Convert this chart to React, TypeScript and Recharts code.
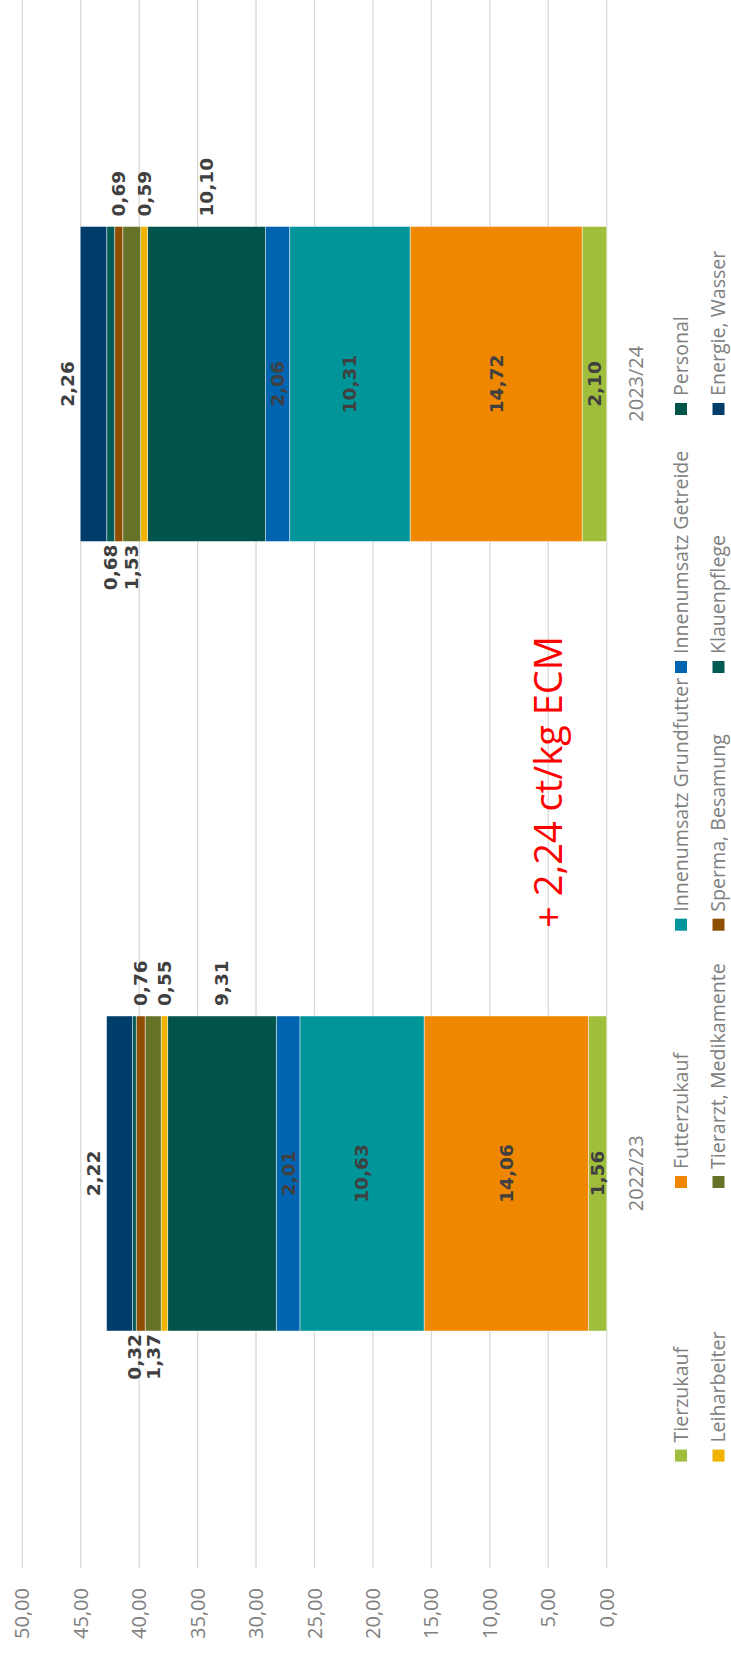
import React from 'react';
import { BarChart, Bar, XAxis, YAxis, CartesianGrid, LabelList } from 'recharts';

// ── Data ──────────────────────────────────────────────────────────────────────

const categories = ['2022/23', '2023/24'];

const tierzukauf   = [1.56, 2.10];
const futterzukauf = [14.06, 14.72];
const grundfutter  = [10.63, 10.31];
const getreide     = [2.01, 2.06];
const personal     = [9.31, 10.10];
const leiharbeiter = [0.55, 0.59];
const tierarzt     = [1.37, 1.53];
const sperma       = [0.76, 0.69];
const klauenpflege = [0.32, 0.68];
const energie      = [2.22, 2.26];

const valueTicks = [0, 5, 10, 15, 20, 25, 30, 35, 40, 45, 50];
const annotation = '+ 2,24 ct/kg ECM';

// ── Series config (stack order bottom → top, legend row-major) ────────────────

type Place = 'center' | 'right' | 'left' | 'top';

const SERIES: { key: string; name: string; color: string; values: number[]; place: Place }[] = [
  { key: 'tierzukauf',   name: 'Tierzukauf',              color: '#9fbe3b', values: tierzukauf,   place: 'center' },
  { key: 'futterzukauf', name: 'Futterzukauf',            color: '#ef8700', values: futterzukauf, place: 'center' },
  { key: 'grundfutter',  name: 'Innenumsatz Grundfutter', color: '#009598', values: grundfutter,  place: 'center' },
  { key: 'getreide',     name: 'Innenumsatz Getreide',    color: '#0064b0', values: getreide,     place: 'center' },
  { key: 'personal',     name: 'Personal',                color: '#02544a', values: personal,     place: 'right' },
  { key: 'leiharbeiter', name: 'Leiharbeiter',            color: '#f2b300', values: leiharbeiter, place: 'right' },
  { key: 'tierarzt',     name: 'Tierarzt, Medikamente',   color: '#647327', values: tierarzt,     place: 'left' },
  { key: 'sperma',       name: 'Sperma, Besamung',        color: '#8e4e00', values: sperma,       place: 'right' },
  { key: 'klauenpflege', name: 'Klauenpflege',            color: '#005a56', values: klauenpflege, place: 'left' },
  { key: 'energie',      name: 'Energie, Wasser',         color: '#003d6b', values: energie,      place: 'top' },
];

const chartData = categories.map((cat, i) => {
  const row: Record<string, string | number> = { category: cat };
  SERIES.forEach((s) => { row[s.key] = s.values[i]; });
  return row;
});

// ── Layout (chart is drawn landscape, then turned 90° to the left) ────────────

const PAGE_W = 731;
const PAGE_H = 1655;
const CHART_W = 1666;
const CHART_H = 731;

const LEGEND_COLS = [199.4, 473, 730.3, 988, 1246];
const LEGEND_ROWS = [681, 718.5];

const GRAY = '#808080';
const LABEL_COLOR = '#404040';

const fmt = (v: number) => v.toFixed(2).replace('.', ',');

// ── Custom pieces ─────────────────────────────────────────────────────────────

const makeLabel = (place: Place) => (props: any) => {
  const vb = props.viewBox ?? {};
  const x = Number(props.x ?? vb.x);
  const y0 = Number(props.y ?? vb.y);
  const w = Number(props.width ?? vb.width);
  const h0 = Number(props.height ?? vb.height);
  const y = Math.min(y0, y0 + h0);
  const h = Math.abs(h0);
  let tx = x + w / 2;
  let ty = y + h / 2;
  let anchor: 'start' | 'middle' | 'end' = 'middle';
  if (place === 'right') { tx = x + w + 10; anchor = 'start'; }
  if (place === 'left')  { tx = x - 3; anchor = 'end'; }
  if (place === 'top')   { ty = y - 13; }
  return (
    <text
      x={tx}
      y={ty}
      dy="0.35em"
      textAnchor={anchor}
      fill={LABEL_COLOR}
      fontSize={18.5}
      fontWeight="bold"
      fontFamily="DejaVu Sans"
    >
      {fmt(Number(props.value))}
    </text>
  );
};

const ValueTick = ({ x, y, payload }: any) => (
  <text x={x - 20} y={y} dy="0.35em" textAnchor="end" fill={GRAY} fontSize={20} fontFamily="Open Sans">
    {fmt(Number(payload.value))}
  </text>
);

const CategoryTick = ({ x, y, payload }: any) => (
  <text x={x} y={y + 36} textAnchor="middle" fill={GRAY} fontSize={20} fontFamily="Open Sans">
    {payload.value}
  </text>
);

// ── App ───────────────────────────────────────────────────────────────────────

export default function App() {
  return (
    <div
      style={{
        position: 'absolute', left: 0, top: 0,
        width: PAGE_W, height: PAGE_H,
        overflow: 'hidden', background: '#ffffff',
      }}
    >
      <div
        style={{
          position: 'absolute', left: 0, top: 0,
          width: CHART_W, height: CHART_H,
          transformOrigin: '0 0',
          transform: `translate(0px, ${PAGE_H}px) rotate(-90deg)`,
        }}
      >
        <BarChart
          width={CHART_W}
          height={CHART_H}
          data={chartData}
          margin={{ top: 22.3, right: 0, bottom: 94.3, left: 0 }}
          barSize={315}
        >
          <CartesianGrid vertical={false} stroke="#d9d9d9" strokeWidth={1.3} />
          <XAxis
            dataKey="category"
            height={30}
            axisLine={false}
            tickLine={false}
            tickSize={0}
            tickMargin={0}
            tick={<CategoryTick />}
          />
          <YAxis
            width={87}
            domain={[0, 50]}
            ticks={valueTicks}
            interval={0}
            axisLine={false}
            tickLine={false}
            tickSize={0}
            tickMargin={0}
            tick={<ValueTick />}
          />
          {SERIES.map((s) => (
            <Bar
              key={s.key}
              dataKey={s.key}
              name={s.name}
              stackId="a"
              fill={s.color}
              stroke="rgba(255,255,255,0.45)"
              strokeWidth={1}
              isAnimationActive={false}
            >
              <LabelList dataKey={s.key} content={makeLabel(s.place)} />
            </Bar>
          ))}
        </BarChart>

        {/* legend + annotation overlay */}
        <svg
          width={CHART_W}
          height={CHART_H}
          style={{ position: 'absolute', left: 0, top: 0, pointerEvents: 'none' }}
        >
          {SERIES.map((s, i) => {
            const cx = LEGEND_COLS[i % 5];
            const cy = LEGEND_ROWS[Math.floor(i / 5)];
            return (
              <g key={s.key}>
                <rect x={cx - 6} y={cy - 6} width={12} height={12} fill={s.color} />
                <text x={cx + 13} y={cy} dy="0.35em" fill={GRAY} fontSize={19.6} fontFamily="Open Sans">
                  {s.name}
                </text>
              </g>
            );
          })}
          <text x={873} y={562} textAnchor="middle" fill="#ff0000" fontSize={38} fontFamily="Open Sans">
            {annotation}
          </text>
        </svg>
      </div>
    </div>
  );
}
